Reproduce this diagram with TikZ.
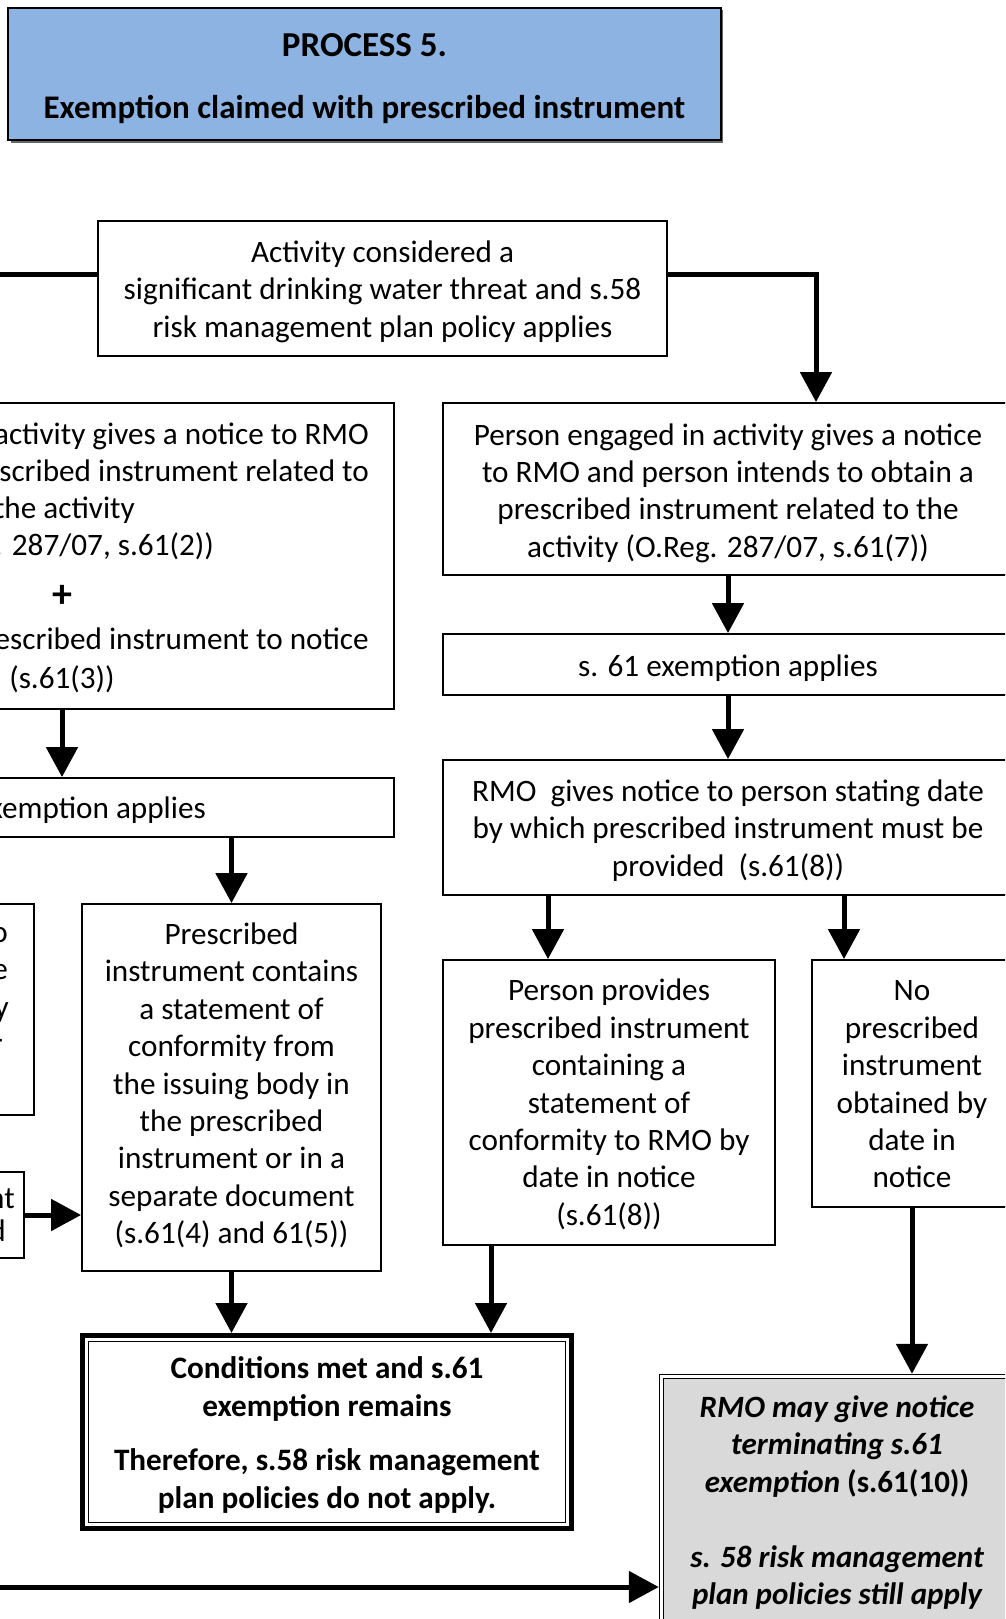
\documentclass[tikz,border=0pt]{standalone}
\usepackage{fontspec}
\setmainfont{Carlito}
\usetikzlibrary{arrows.meta,calc}
\definecolor{titleblue}{HTML}{8DB3E2}
\definecolor{panelgray}{HTML}{D9D9D9}

\begin{document}
\begin{tikzpicture}[x=1pt,y=-1pt,
  every node/.style={font=\fontsize{31.2}{37.4}\selectfont, inner sep=0pt},
  box/.style={draw, line width=1.8pt},
  txt/.style={align=center},
  conn/.style={line width=5pt},
  arr/.style={conn, -{Triangle[length=30pt,width=31pt]}},
  frag/.style={anchor=mid east},
  boldtxt/.style={font=\bfseries\fontsize{31.2}{37.4}\selectfont, align=center}
]
\useasboundingbox (0,0) rectangle (1005,1619);
\clip (0,0) rectangle (1005,1619);

% heading panel with a thin drop shadow
\fill[black!60] (10.5,10.5) rectangle (723,142.5);
\node[draw, line width=1.5pt, fill=titleblue, minimum width=713pt, minimum height=132pt] (title) at (364.5,74) {};
\node[font=\bfseries\fontsize{33}{37}\selectfont, align=center] (title-t) at ([yshift=-5pt]title.center)
  {{\fontsize{35}{37}\selectfont PROCESS 5.}\\[25pt]Exemption claimed with prescribed instrument};

% starting condition
\node[box, minimum width=569pt, minimum height=135pt] (act) at (382.5,288.5) {};
\node[txt] (act-t) at ([yshift=-3pt]act.center)
  {Activity considered a\\significant drinking water threat and s.58\\risk management plan policy applies};

% right-hand branch: instrument still to be obtained
\node[box, minimum width=570pt, minimum height=172pt] (r1) at (728,489) {};
\node[txt] (r1-t) at ([yshift=-4pt]r1.center)
  {Person engaged in activity gives a notice\\to RMO and person intends to obtain a\\prescribed instrument related to the\\activity (O.Reg. 287/07, s.61(7))};
\node[box, minimum width=570pt, minimum height=61pt] (r2) at (728,664.5) {};
\node[txt] (r2-t) at ([yshift=-4pt]r2.center) {s. 61 exemption applies};
\node[box, minimum width=570pt, minimum height=135pt] (r3) at (728,827.5) {};
\node[txt] (r3-t) at ([yshift=-3pt]r3.center)
  {RMO\ \ gives notice to person stating date\\by which prescribed instrument must be\\provided\ \ (s.61(8))};
\node[box, minimum width=332pt, minimum height=285pt] (r4) at (609,1102.5) {};
\node[txt] (r4-t) at ([yshift=-2pt]r4.center)
  {Person provides\\prescribed instrument\\containing a\\statement of\\conformity to RMO by\\date in notice\\(s.61(8))};
\node[box, minimum width=200pt, minimum height=247pt] (r5) at (912,1083.5) {};
\node[txt] (r5-t) at ([yshift=-1pt]r5.center)
  {No\\prescribed\\instrument\\obtained by\\date in\\notice};

% left-hand branch: instrument attached to the notice
\node[box, minimum width=694pt, minimum height=306pt] (l1) at (47,556) {};
\node[frag] (l1a) at (369,442) {activity gives a notice to RMO};
\node[frag] (l1b) at (369,479) {scribed instrument related to};
\node[frag] (l1c) at (135,516) {the activity};
\node[frag] (l1d) at (214,553) {. 287/07, s.61(2))};
\node[font=\bfseries\fontsize{40}{40}\selectfont] (l1e) at (62,596) {+};
\node[frag] (l1f) at (369,647) {escribed instrument to notice};
\node[anchor=mid] (l1g) at (62,686) {(s.61(3))};

\node[box, minimum width=694pt, minimum height=59pt] (l2) at (47,807.5) {};
\node[frag] (l2a) at (206,816) {exemption applies};

\node[box, minimum width=334pt, minimum height=211pt] (l3) at (-133,1009.5) {};
\node[frag] (l3a) at (8,940) {o};
\node[frag] (l3b) at (8,977) {e};
\node[frag] (l3c) at (9,1015) {y};
\node[frag] (l3d) at (3,1052) {r};

\node[box, minimum width=324pt, minimum height=86pt] (l4) at (-138,1215) {};
\node[frag] (l4a) at (15,1206) {nt};
\node[frag] (l4b) at (6,1239) {d};

\node[box, minimum width=299pt, minimum height=367pt] (l5) at (231.5,1087.5) {};
\node[txt] (l5-t) at ([yshift=2pt]l5.center)
  {Prescribed\\instrument contains\\a statement of\\conformity from\\the issuing body in\\the prescribed\\instrument or in a\\separate document\\(s.61(4) and 61(5))};

% outcome: exemption remains (heavy double frame)
\node[draw, line width=5pt, minimum width=489pt, minimum height=193pt] (cond) at (327,1432) {};
\draw[line width=1.2pt] ($(cond.north west)+(8.5,8.5)$) rectangle ($(cond.south east)+(-8.5,-8.5)$);
\node[boldtxt] (cond-t) at (327,1435)
  {Conditions met and s.61\\exemption remains\\[17pt]Therefore, s.58 risk management\\plan policies do not apply.};

% outcome: exemption may be terminated (shaded double frame)
\node[draw, line width=1.6pt, minimum width=358pt, minimum height=300pt, anchor=north west] (gray) at (658.8,1373.8) {};
\filldraw[fill=panelgray, line width=1pt] ($(gray.north west)+(4.5,4.5)$) rectangle ($(gray.south east)+(-4.5,-4.5)$);
\node[font=\bfseries\itshape\fontsize{31}{37.4}\selectfont, align=center] (gray-t) at (837,1502.5)
  {RMO may give notice\\terminating s.61\\exemption {\upshape(s.61(10))}\\[37.4pt]s. 58 risk management\\plan policies still apply};

% connectors
\coordinate (actin) at (-20,274);
\draw[conn] (act.west |- actin) -- (actin);
\coordinate (rturn) at (816,274);
\draw[arr] (act.east |- rturn) -- (rturn) -- (rturn |- r1.north);
\draw[arr] (r1.south) -- (r2.north);
\draw[arr] (r2.south) -- (r3.north);
\draw[arr] ([xshift=-180pt]r3.south) -- ([xshift=-180pt]r3.south |- r4.north);
\draw[arr] ([xshift=116pt]r3.south) -- ([xshift=116pt]r3.south |- r5.north);
\draw[arr] ([xshift=-118pt]r4.south) -- ([xshift=-118pt]r4.south |- cond.north);
\draw[arr] (r5.south) -- (r5.south |- gray.north);
\draw[arr] ([xshift=15pt]l1.south) -- ([xshift=15pt]l1.south |- l2.north);
\draw[arr] (l5.north |- l2.south) -- (l5.north);
\draw[arr] (l4.east) -- (l4.east -| l5.west);
\draw[arr] (l5.south) -- (l5.south |- cond.north);
\coordinate (botin) at (-20,1587);
\draw[arr] (botin) -- (botin -| gray.west);
\end{tikzpicture}
\end{document}
